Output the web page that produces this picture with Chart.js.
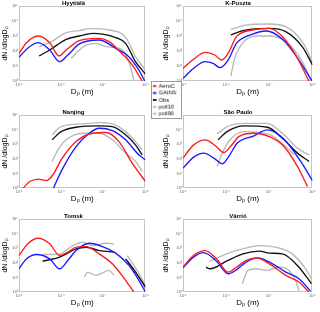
<!DOCTYPE html>
<html><head><meta charset="utf-8">
<script src="https://cdn.jsdelivr.net/npm/chart.js@4/dist/chart.umd.min.js"></script>
<style>
html,body{margin:0;padding:0;background:#fff;width:320px;height:312px;overflow:hidden;position:relative}
canvas{position:absolute}
#leg{border:1px solid #9a9a9a;background:#fff}
</style></head><body>
<script>
// ---- axis ticks ----
const xTicks = [1e-9, 1e-8, 1e-7, 1e-6];
const xTickLabels = ['10⁻⁹', '10⁻⁸', '10⁻⁷', '10⁻⁶'];
const yTicks = [1, 10, 100, 1000, 10000, 100000];
const yTickLabels = ['10⁰', '10¹', '10²', '10³', '10⁴', '10⁵'];
const seriesNames = ['AeroC', 'GAINS', 'Obs', 'pctl10', 'pctl90'];
const siteNames = ['Hyytiälä', 'K-Puszta', 'Nanjing', 'São Paulo', 'Tomsk', 'Värriö'];

// ---- data: [diameter in nm, dN/dlogDp] ----
const hyyAeroC = [[1,69],[1.51,360],[2.85,1000],[5.35,360],[8.9,47],[13.2,117],[27,490],[80,690],[137,420],[236,105],[485,12],[834,1]];
const hyyGAINS = [[1,38],[1.66,166],[2.85,360],[5.35,117],[9.2,19.5],[14.4,54],[27,295],[80,540],[197,150],[405,42],[697,5.4],[964,1]];
const hyyObs   = [[3,47],[5.35,117],[13.2,600],[27,1000],[56,1500],[96,1350],[197,780],[338,325],[580,19.5],[1000,2.9]];
const hyyP10   = [[17.3,32],[27,117],[38.9,250],[66.8,325],[115,195],[197,166],[282,117],[405,19.5],[531,1.17]];
const hyyP90   = [[3,195],[5.35,360],[13.2,1660],[27,2290],[46.5,3090],[137,2510],[338,810],[580,42],[1000,5.4]];

const kpuAeroC = [[1,6.9],[1.75,28],[3.25,81],[5.5,54],[7.8,25],[11.1,70],[17.3,900],[41.5,2510],[100,3240],[202,900],[408,54],[824,1]];
const kpuGAINS = [[1,1.5],[1.75,6.9],[3.25,19.5],[5,15],[7.2,7.8],[11.1,25],[17.3,325],[41.5,1350],[84,2140],[202,600],[486,25],[982,1]];
const kpuObs   = [[12.8,1170],[24.5,2290],[100,3240],[241,1950],[580,195],[1000,12]];
const kpuP10   = [[12.8,2.1],[15.8,32],[24.5,360],[49.5,1000],[100,1000],[241,420],[580,19.5],[900,1.17]];
const kpuP90   = [[12.8,2750],[29.2,5370],[100,6310],[241,4170],[580,420],[1000,19.5]];

const nanAeroC = [[1.26,1],[1.81,2.8],[2.85,4.1],[4.47,3.2],[6.4,8.1],[10,85],[22.6,1510],[56,5620],[115,6310],[236,1510],[485,50],[1000,2.8]];
const nanGAINS = [[6.6,1],[10,13.8],[22.6,690],[46.5,5620],[80,12300],[164,8500],[338,2000],[697,186],[1000,85]];
const nanObs   = [[6.1,2000],[10,7240],[22.6,14500],[80,17800],[164,15800],[338,4370],[580,890],[834,186]];
const nanP10   = [[6.1,66],[8.4,410],[13.2,2000],[32.5,5620],[80,5620],[164,2000],[338,245],[580,66],[834,13.8]];
const nanP90   = [[6.1,4370],[10,15800],[32.5,24500],[80,30200],[164,24500],[338,7240],[580,1510],[834,410]];

const saoAeroC = [[1,112],[1.77,900],[3.3,2000],[5.65,776],[8.8,270],[12.6,690],[19.7,3310],[44,5620],[107,3020],[219,690],[448,30],[765,1.3]];
const saoGAINS = [[1,23],[1.77,130],[3.03,245],[5.2,112],[8.1,46],[11.5,145],[18,1170],[44,3720],[90,9550],[219,2190],[535,66],[1000,3.2]];
const saoObs   = [[6.5,2000],[10.5,7240],[25.8,17800],[90,14500],[219,2000],[448,245],[836,66]];
const saoP10   = [[6.2,30],[8.1,245],[12.6,2190],[25.8,7240],[52.6,6310],[107,4370],[219,890],[375,186]];
const saoP90   = [[6.2,5010],[10.5,15800],[25.8,26900],[90,26900],[219,4370],[448,537],[836,186]];

const tomAeroC = [[1,316],[1.66,2190],[2.85,4790],[5.35,2000],[9.2,316],[14.4,537],[22.6,1170],[38.9,1290],[80,410],[164,85],[338,6.3],[531,1]];
const tomGAINS = [[1,39],[1.51,186],[2.6,370],[5.35,186],[9.2,39],[14.4,145],[22.6,690],[46.5,2190],[96,1290],[197,457],[405,66],[697,6.3],[1000,1]];
const tomObs   = [[3.6,129],[9.2,245],[22.6,890],[38.9,1170],[80,690],[180,537],[250,null],[338,186],[580,23],[1000,2.2]];
const tomP10   = [[35.5,10.5],[42.5,23],[66.8,13.8],[137,30],[180,13.8],[250,null],[370,145],[635,17.8],[1000,1.7]];
const tomP90   = [[3.7,370],[9.2,410],[18.9,1510],[32.5,2570],[56,1510],[115,2190],[180,2000],[250,null],[370,316],[635,30],[1000,2.8]];

const varAeroC = [[1,50],[1.75,316],[3.25,690],[6,186],[11.1,23],[17.3,50],[29.2,145],[49.5,219],[100,85],[241,13.8],[486,4.8],[824,1]];
const varGAINS = [[1,46],[1.75,245],[2.97,500],[6,129],[11.1,17.8],[17.3,33],[29.2,112],[54,219],[119,85],[241,23],[486,8.1],[900,1.17]];
const varObs   = [[3.4,50],[4.2,39],[10.2,129],[24.5,410],[59,630],[100,457],[202,410],[486,50],[948,3.7]];
const varP10   = [[23.7,3.7],[31.9,30],[49.5,39],[84,30],[169,50],[287,30],[408,6.3],[486,1.17]];
const varP90   = [[4.2,129],[10.2,410],[24.5,890],[59,1510],[142,1170],[342,410],[692,39],[948,8.1]];

const siteSeries = [
  [hyyAeroC, hyyGAINS, hyyObs, hyyP10, hyyP90],
  [kpuAeroC, kpuGAINS, kpuObs, kpuP10, kpuP90],
  [nanAeroC, nanGAINS, nanObs, nanP10, nanP90],
  [saoAeroC, saoGAINS, saoObs, saoP10, saoP90],
  [tomAeroC, tomGAINS, tomObs, tomP10, tomP90],
  [varAeroC, varGAINS, varObs, varP10, varP90]
];

// ---- styling / layout ----
const seriesColors = ['#ff1a1a', '#1a1aff', '#111111', '#b8b8b8', '#b8b8b8'];
const cols = [
  {left: 0,   width: 150, yW: 19, yTitlePad: 2},
  {left: 162, width: 155, yW: 21, yTitlePad: 1}
];
const rows = [{top: 0, height: 96}, {top: 109, height: 94}, {top: 213, height: 94}];

Chart.defaults.font.family = "'Liberation Sans', Arial, sans-serif";
Chart.defaults.color = '#000';

const framePlugin = {
  id: 'frame',
  beforeDatasetsDraw(c) {
    const a = c.chartArea, ctx = c.ctx;
    ctx.save();
    ctx.strokeStyle = '#c4c4c4';
    ctx.lineWidth = 1;
    ctx.strokeRect(Math.round(a.left) + 0.5, Math.round(a.top) + 0.5,
                   Math.round(a.right - a.left) - 1, Math.round(a.bottom - a.top) - 1);
    ctx.restore();
  }
};

siteNames.forEach((name, s) => {
  const col = cols[s % 2], row = rows[Math.floor(s / 2)];
  const cv = document.createElement('canvas');
  cv.width = col.width; cv.height = row.height;
  cv.style.left = col.left + 'px'; cv.style.top = row.top + 'px';
  cv.style.width = col.width + 'px'; cv.style.height = row.height + 'px';
  document.body.appendChild(cv);
  const datasets = siteSeries[s].map((pts, i) => ({
    label: seriesNames[i],
    data: pts.map(([d, n]) => ({x: d * 1e-9, y: n})),
    borderColor: seriesColors[i],
    borderWidth: 1.35,
    pointRadius: 0,
    fill: false,
    spanGaps: false,
    cubicInterpolationMode: 'monotone'
  }));
  new Chart(cv, {
    type: 'line',
    data: {datasets},
    plugins: [framePlugin],
    options: {
      responsive: false, animation: false, events: [],
      layout: {padding: {left: 0, right: 3, top: 0, bottom: 0}},
      plugins: {
        legend: {display: false}, tooltip: {enabled: false},
        title: {display: true, text: name, font: {size: 6, weight: 'bold', lineHeight: 1}, padding: 0, color: '#000'}
      },
      scales: {
        x: {
          type: 'logarithmic', min: 1e-9, max: 1e-6,
          afterBuildTicks: sc => { sc.ticks = xTicks.map(v => ({value: v})); },
          afterFit: sc => { sc.height = 15; },
          ticks: {callback: (v, i) => xTickLabels[i], font: {size: 4}, color: '#666', padding: 1, maxRotation: 0, autoSkip: false},
          grid: {display: true, drawOnChartArea: false, drawTicks: false},
          border: {display: false},
          title: {display: true, text: 'Dₚ (m)', font: {size: 8, lineHeight: 1}, padding: 0, color: '#000'}
        },
        y: {
          type: 'logarithmic', min: 1, max: 100000,
          afterBuildTicks: sc => { sc.ticks = yTicks.map(v => ({value: v})); },
          afterFit: sc => { sc.width = col.yW; },
          ticks: {callback: (v, i) => yTickLabels[i], font: {size: 4}, color: '#666', padding: 1, autoSkip: false},
          grid: {display: true, drawOnChartArea: false, drawTicks: false},
          border: {display: false},
          title: {display: true, text: 'dN /dlogDₚ', font: {size: 7, lineHeight: 1}, padding: {top: col.yTitlePad, bottom: 0}, color: '#000'}
        }
      }
    }
  });
});

// ---- shared legend ----
const lg = document.createElement('canvas');
lg.id = 'leg';
lg.width = 31; lg.height = 38;
lg.style.left = '151px'; lg.style.top = '81px';
lg.style.width = '31px'; lg.style.height = '38px';
document.body.appendChild(lg);
new Chart(lg, {
  type: 'line',
  data: {datasets: seriesNames.map((n, i) => ({label: n, data: [], borderColor: seriesColors[i], backgroundColor: seriesColors[i], borderWidth: 1}))},
  options: {
    responsive: false, animation: false, events: [],
    layout: {padding: 0},
    scales: {x: {display: false}, y: {display: false}},
    plugins: {
      tooltip: {enabled: false},
      legend: {position: 'left', align: 'start', maxWidth: 31, maxHeight: 38,
               labels: {boxWidth: 3, boxHeight: 1, padding: 1.3, font: {size: 6}, color: '#000'}}
    }
  }
});
</script>
</body></html>
